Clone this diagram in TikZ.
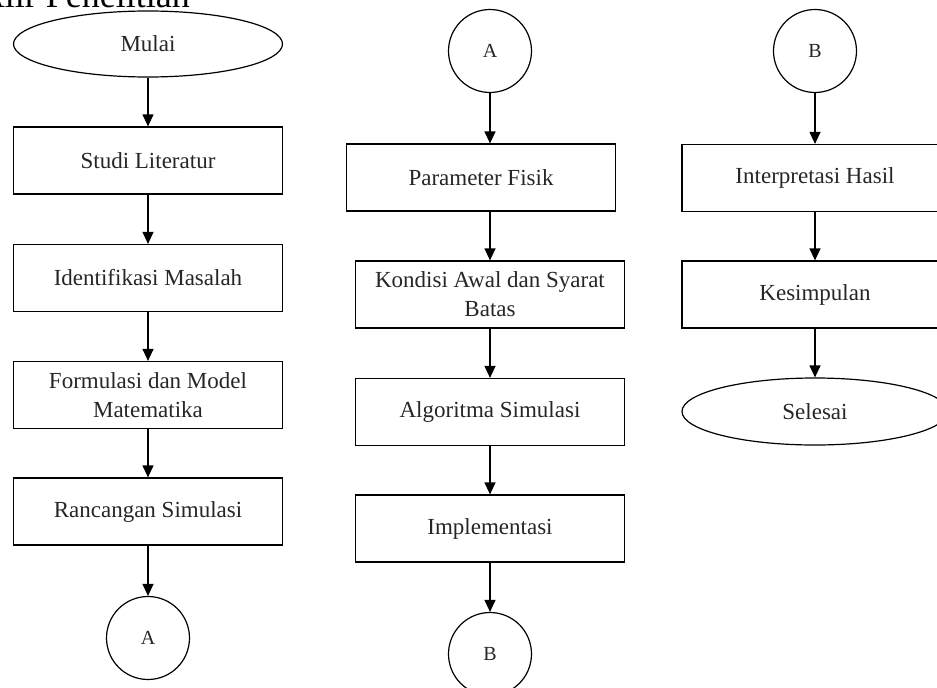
\documentclass[tikz,border=0pt]{standalone}
\usepackage{fontspec}
\setmainfont{Liberation Serif}
\usetikzlibrary{shapes.geometric,arrows.meta}
\begin{document}
\begin{tikzpicture}[x=1pt,y=-1pt,
  box/.style={draw, line width=1.2pt, rectangle, minimum width=269pt, minimum height=67pt, inner sep=0pt, align=center, font=\fontsize{23}{29}\selectfont, text=black!85},
  term/.style={draw, line width=1.2pt, ellipse, minimum width=269pt, minimum height=66pt, inner sep=0pt, font=\fontsize{23}{29}\selectfont, text=black!85},
  conn/.style={draw, line width=1.2pt, circle, minimum size=83pt, inner sep=0pt, font=\fontsize{20}{24}\selectfont, text=black!85},
  arr/.style={-{Triangle[length=12pt,width=11pt]}, line width=1.2pt}]
\useasboundingbox (0,0) rectangle (937,688);
\clip (0,0) rectangle (937,688);
% title (cropped)
\node[anchor=base east, inner sep=0pt, font=\fontsize{36}{36}\selectfont] (title) at (190,7) {Diagram Alir Penelitian};
% column 1
\node[term] (mulai) at (148,44) {Mulai};
\node[box] (studi) at (148,160.5) {Studi Literatur};
\node[box] (ident) at (148,278) {Identifikasi Masalah};
\node[box] (form) at (148,395) {Formulasi dan Model\\Matematika};
\node[box] (ranc) at (148,511.5) {Rancangan Simulasi};
\node[conn] (a1) at (148,638) {A};
\draw[arr] (mulai) -- (studi);
\draw[arr] (studi) -- (ident);
\draw[arr] (ident) -- (form);
\draw[arr] (form) -- (ranc);
\draw[arr] (ranc) -- (a1);
% column 2
\node[conn] (a2) at (490,51) {A};
\node[box] (param) at (481,177.5) {Parameter Fisik};
\node[box] (kond) at (490,294.5) {Kondisi Awal dan Syarat\\Batas};
\node[box] (algo) at (490,412) {Algoritma Simulasi};
\node[box] (impl) at (490,528.5) {Implementasi};
\node[conn] (b1) at (490,654) {B};
\draw[arr] (a2) -- (a2 |- param.north);
\draw[arr] (param.south -| kond.north) -- (kond);
\draw[arr] (kond) -- (algo);
\draw[arr] (algo) -- (impl);
\draw[arr] (impl) -- (b1);
% column 3
\node[conn] (b2) at (815,51) {B};
\node[box, minimum width=266pt] (interp) at (815,178) {Interpretasi Hasil};
\node[box, minimum width=266pt] (kesim) at (815,294.5) {Kesimpulan};
\node[term, minimum width=266pt, minimum height=67pt] (selesai) at (815,411.5) {Selesai};
\draw[arr] (b2) -- (interp);
\draw[arr] (interp) -- (kesim);
\draw[arr] (kesim) -- (selesai);
\end{tikzpicture}
\end{document}
